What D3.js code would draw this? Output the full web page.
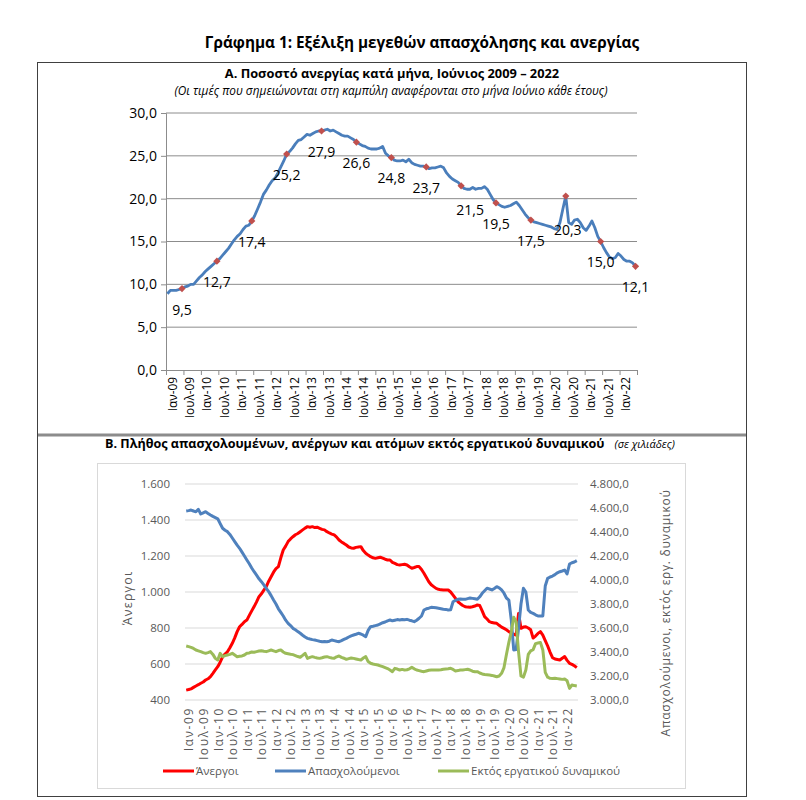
<!DOCTYPE html>
<html>
<head>
<meta charset="utf-8">
<script src="https://cdn.jsdelivr.net/npm/d3@7"></script>
<style>
  body { margin: 0; background: #fff; }
  svg { display: block; }
  text { font-family: "Open Sans", "Noto Sans", sans-serif; }
</style>
</head>
<body>
<svg id="chart" width="806" height="800"></svg>
<script>
// tick labels, every 6 months from Jan 2009
const tickLabels = ["Ιαν-09","Ιουλ-09","Ιαν-10","Ιουλ-10","Ιαν-11","Ιουλ-11","Ιαν-12","Ιουλ-12",
  "Ιαν-13","Ιουλ-13","Ιαν-14","Ιουλ-14","Ιαν-15","Ιουλ-15","Ιαν-16","Ιουλ-16","Ιαν-17","Ιουλ-17",
  "Ιαν-18","Ιουλ-18","Ιαν-19","Ιουλ-19","Ιαν-20","Ιουλ-20","Ιαν-21","Ιουλ-21","Ιαν-22"];

// A. monthly unemployment rate, Jan 2009 - Jun 2022
const rate = [
  8.9, 9.3, 9.3, 9.3, 9.4, 9.5, 9.7, 9.8, 10.0, 10.0, 10.4, 10.8,
  11.1, 11.5, 11.8, 12.1, 12.4, 12.7, 13.0, 13.4, 13.8, 14.2, 14.7, 15.2,
  15.6, 15.9, 16.4, 16.8, 16.9, 17.4, 18.0, 18.8, 19.6, 20.5, 21.0, 21.6,
  22.1, 22.4, 23.0, 23.7, 24.4, 25.2, 25.5, 25.9, 26.4, 26.8, 26.9, 27.2,
  27.5, 27.4, 27.6, 27.8, 27.9, 27.9, 28.0, 28.1, 27.9, 28.0, 27.8, 27.6,
  27.4, 27.3, 27.3, 27.1, 26.9, 26.6, 26.4, 26.2, 26.1, 25.9, 25.8, 25.8,
  25.8, 25.9, 26.1, 25.3, 25.0, 24.8, 24.5, 24.4, 24.4, 24.5, 24.3, 24.6,
  24.2, 24.0, 23.9, 23.8, 23.8, 23.7, 23.5, 23.6, 23.6, 23.7, 23.8, 23.6,
  23.0, 22.6, 22.3, 22.1, 21.9, 21.5, 21.2, 21.1, 21.1, 21.3, 21.1, 21.2,
  21.2, 21.4, 21.1, 20.5, 19.9, 19.5, 19.3, 19.1, 19.0, 19.1, 19.2, 19.4,
  19.6, 19.2, 18.7, 18.2, 17.8, 17.5, 17.3, 17.2, 17.1, 17.0, 16.9, 16.8,
  16.7, 16.5, 16.4, 17.2, 18.8, 20.3, 17.2, 17.0, 17.5, 17.6, 17.2, 16.6,
  16.3, 16.8, 17.4, 16.6, 15.6, 15.0, 14.3, 13.7, 13.2, 13.0, 13.1, 13.6,
  13.3, 12.9, 12.7, 12.7, 12.5, 12.1
];
// June of each year is marked and labelled
const juneIdx = [5, 17, 29, 41, 53, 65, 77, 89, 101, 113, 125, 137, 149, 161];

// B. thousands of people
const unemployed = [
  455, 458, 462, 470, 478, 485, 493, 500, 511, 518, 530, 548,
  567, 585, 610, 640, 655, 668, 690, 715, 745, 780, 807, 820,
  835, 844, 870, 895, 919, 945, 974, 990, 1010, 1030, 1060, 1085,
  1110, 1130, 1141, 1190, 1233, 1255, 1280, 1295, 1307, 1318, 1325, 1335,
  1345, 1355, 1363, 1360, 1363, 1358, 1360, 1354, 1348, 1345, 1335, 1328,
  1322, 1317, 1305, 1289, 1278, 1270, 1261, 1250, 1245, 1243, 1248, 1250,
  1252, 1230, 1215, 1205, 1196, 1190, 1187, 1190, 1193, 1188, 1182, 1178,
  1178, 1165, 1159, 1152, 1150, 1152, 1154, 1150, 1140, 1132, 1136, 1141,
  1141, 1125, 1104, 1080, 1057, 1040, 1030, 1020, 1015, 1012, 1011, 1011,
  1011, 1000, 983, 965, 946, 935, 925, 918, 916, 915, 918, 922,
  928, 925, 895, 863, 850, 835, 830, 828, 826, 815, 805, 798,
  790, 780, 770, 765, 761, 881, 798, 805, 807, 800, 790, 744,
  755, 770, 780, 760, 730, 700, 665, 635, 628, 625, 622, 632,
  641, 620, 604, 598, 590, 580
];
const employed = [
  4575, 4578, 4583, 4575, 4569, 4589, 4550, 4560, 4569, 4555, 4542, 4530,
  4520, 4510, 4470, 4431, 4415, 4403, 4380, 4350, 4320, 4290, 4264, 4232,
  4200, 4167, 4135, 4100, 4069, 4040, 4010, 3986, 3960, 3930, 3903, 3870,
  3833, 3800, 3760, 3730, 3700, 3665, 3639, 3620, 3597, 3585, 3570, 3556,
  3540, 3525, 3514, 3508, 3503, 3500, 3495, 3490, 3486, 3488, 3486, 3490,
  3500, 3495, 3490, 3486, 3495, 3505, 3514, 3525, 3535, 3542, 3548, 3556,
  3550, 3540, 3528, 3580, 3611, 3615, 3620, 3625, 3635, 3644, 3650, 3660,
  3667, 3660, 3665, 3670, 3667, 3670, 3668, 3672, 3665, 3660, 3653, 3665,
  3681, 3700, 3750, 3760, 3765, 3772, 3770, 3768, 3764, 3760, 3756, 3755,
  3750, 3752, 3819, 3830, 3839, 3842, 3840, 3839, 3845, 3850, 3847, 3843,
  3839, 3860, 3889, 3910, 3931, 3925, 3917, 3930, 3944, 3935, 3917, 3890,
  3850, 3833, 3667, 3417, 3420, 3600, 3800, 3931, 3900, 3750, 3730, 3722,
  3710, 3700, 3700, 3700, 3950, 4014, 4025, 4033, 4045, 4060, 4069, 4075,
  4083, 4050, 4133, 4144, 4150, 4161
];
const outsideLF = [
  3450, 3445, 3439, 3430, 3417, 3410, 3403, 3395, 3389, 3395, 3403, 3380,
  3347, 3333, 3389, 3361, 3370, 3375, 3380, 3389, 3375, 3361, 3365, 3367,
  3375, 3389, 3392, 3400, 3398, 3403, 3408, 3411, 3406, 3403, 3410, 3417,
  3410, 3403, 3412, 3417, 3400, 3389, 3385, 3381, 3378, 3370, 3362, 3356,
  3372, 3389, 3347, 3355, 3361, 3355, 3350, 3347, 3352, 3358, 3361, 3355,
  3350, 3347, 3360, 3367, 3355, 3348, 3339, 3345, 3350, 3347, 3342, 3337,
  3333, 3350, 3361, 3320, 3306, 3300, 3295, 3292, 3285, 3278, 3270, 3262,
  3250, 3236, 3264, 3258, 3250, 3255, 3250, 3252, 3260, 3272, 3260, 3250,
  3245, 3240, 3236, 3242, 3248, 3250, 3250, 3250, 3250, 3252, 3256, 3258,
  3260, 3264, 3255, 3242, 3245, 3250, 3250, 3253, 3256, 3250, 3240, 3236,
  3236, 3225, 3217, 3212, 3210, 3208, 3205, 3200, 3194, 3200, 3222, 3270,
  3380, 3480, 3569, 3690, 3650, 3400, 3200, 3190, 3250, 3380, 3410, 3420,
  3470, 3475, 3480, 3417, 3230, 3190, 3181, 3180, 3181, 3178, 3175, 3172,
  3175, 3160, 3097, 3125, 3120, 3117
];

const seriesNames = ["Άνεργοι", "Απασχολούμενοι", "Εκτός εργατικού δυναμικού"];
const seriesColors = ["#ff0000", "#4f81bd", "#9bbb59"];

const gr = d3.formatLocale({decimal: ",", thousands: ".", grouping: [3], currency: ["", "€"]});
const svg = d3.select("#chart");
const n = rate.length;

svg.append("rect").attr("width", 806).attr("height", 800).attr("fill", "#fff");

// outer frame + titles
svg.append("text").attr("x", 422).attr("y", 48).attr("text-anchor", "middle")
  .attr("font-size", 15.3).attr("font-weight", "bold")
  .text("Γράφημα 1: Εξέλιξη μεγεθών απασχόλησης και ανεργίας");
svg.append("rect").attr("x", 37.5).attr("y", 62.5).attr("width", 709).attr("height", 734)
  .attr("fill", "none").attr("stroke", "#404040");
svg.append("line").attr("x1", 38).attr("x2", 746).attr("y1", 435).attr("y2", 435)
  .attr("stroke", "#8c8c8c").attr("stroke-width", 3);

// ---------- panel A ----------
svg.append("text").attr("x", 392).attr("y", 78).attr("text-anchor", "middle")
  .attr("font-size", 12.8).attr("font-weight", "bold")
  .text("Α. Ποσοστό ανεργίας κατά μήνα, Ιούνιος 2009 – 2022");
svg.append("text").attr("x", 391).attr("y", 95).attr("text-anchor", "middle")
  .attr("font-size", 11.8).attr("font-style", "italic")
  .text("(Οι τιμές που σημειώνονται στη καμπύλη αναφέρονται στο μήνα Ιούνιο κάθε έτους)");

const xA = d3.scaleLinear().domain([-0.5, n - 0.5]).range([166, 637]);
const yA = d3.scaleLinear().domain([0, 30]).range([370, 113]);

const gA = svg.append("g");
gA.append("g").selectAll("line").data(yA.ticks(6).filter(d => d > 0)).join("line")
  .attr("x1", 166).attr("x2", 637).attr("y1", d => yA(d)).attr("y2", d => yA(d))
  .attr("stroke", "#8c8c8c");

const axA = gA.append("g").attr("transform", "translate(166,0)")
  .call(d3.axisLeft(yA).ticks(6).tickSize(5).tickFormat(gr.format(",.1f")));
axA.select(".domain").attr("stroke", "#8c8c8c");
axA.selectAll(".tick line").attr("stroke", "#8c8c8c");
axA.selectAll("text").attr("font-size", 14).attr("fill", "#000").attr("font-family", null).attr("x", -9);

const bounds = d3.range(0, n + 1, 6).map(d => d - 0.5);
const axAx = gA.append("g").attr("transform", "translate(0,370)")
  .call(d3.axisBottom(xA).tickValues(bounds).tickSize(5).tickFormat(""));
axAx.select(".domain").attr("stroke", "#8c8c8c");
axAx.selectAll(".tick line").attr("stroke", "#8c8c8c");
gA.append("g").selectAll("text").data(tickLabels).join("text")
  .attr("transform", (d, i) => `translate(${xA(i * 6) + 5},377) rotate(-90)`)
  .attr("text-anchor", "end").attr("dy", "0.35em").attr("font-size", 11.8)
  .text(d => d);

gA.append("path").datum(rate)
  .attr("d", d3.line().x((d, i) => xA(i)).y(d => yA(d)))
  .attr("fill", "none").attr("stroke", "#4a7ebb").attr("stroke-width", 2.8)
  .attr("stroke-linejoin", "round");

gA.append("g").selectAll("path").data(juneIdx).join("path")
  .attr("d", d3.symbol(d3.symbolSquare, 26))
  .attr("transform", i => `translate(${xA(i)},${yA(rate[i])}) rotate(45)`)
  .attr("fill", "#c0504d");

const nudge = {8: [9, 3], 11: [2, 13]};
gA.append("g").selectAll("text").data(juneIdx).join("text")
  .attr("x", (i, k) => xA(i) + (nudge[k] ? nudge[k][0] : 0))
  .attr("y", (i, k) => yA(rate[i]) + 21 + (nudge[k] ? nudge[k][1] : 0))
  .attr("dy", "0.35em").attr("text-anchor", "middle").attr("font-size", 14)
  .text(i => gr.format(",.1f")(rate[i]));

// ---------- panel B ----------
svg.append("text").attr("x", 105).attr("y", 448).attr("font-size", 12.6).attr("font-weight", "bold")
  .text("Β. Πλήθος απασχολουμένων, ανέργων και ατόμων εκτός εργατικού δυναμικού")
  .append("tspan").attr("font-weight", "normal").attr("font-style", "italic").attr("font-size", 11)
  .attr("dx", 10).text("(σε χιλιάδες)");

svg.append("rect").attr("x", 97.5).attr("y", 463.5).attr("width", 588).attr("height", 325)
  .attr("fill", "#fff").attr("stroke", "#d9d9d9");

const xB = d3.scaleLinear().domain([-0.5, n - 0.5]).range([185, 578]);
const yL = d3.scaleLinear().domain([400, 1600]).range([700, 484]);
const yR = d3.scaleLinear().domain([3000, 4800]).range([700, 484]);
const grey = "#595959";

const gB = svg.append("g");
gB.append("g").selectAll("line").data(yL.ticks(6)).join("line")
  .attr("x1", 185).attr("x2", 578).attr("y1", d => yL(d)).attr("y2", d => yL(d))
  .attr("stroke", "#d9d9d9");

gB.append("g").selectAll("text").data(yL.ticks(6)).join("text")
  .attr("x", 170).attr("y", d => yL(d)).attr("dy", "0.35em").attr("text-anchor", "end")
  .attr("font-size", 11.5).attr("fill", grey).text(gr.format(",.0f"));
gB.append("g").selectAll("text").data(d3.range(3000, 4801, 200)).join("text")
  .attr("x", 590).attr("y", d => yR(d)).attr("dy", "0.35em")
  .attr("font-size", 11.5).attr("fill", grey).text(gr.format(",.1f"));

gB.append("g").selectAll("text").data(tickLabels).join("text")
  .attr("transform", (d, i) => `translate(${xB(i * 6) + 3},707) rotate(-90)`)
  .attr("text-anchor", "end").attr("dy", "0.35em").attr("font-size", 12)
  .attr("letter-spacing", 1.6).attr("fill", grey).text(d => d);

gB.append("text").attr("transform", "translate(128,598) rotate(-90)")
  .attr("text-anchor", "middle").attr("dy", "0.35em").attr("font-size", 12.5)
  .attr("letter-spacing", 1.2).attr("fill", grey).text("Άνεργοι");
gB.append("text").attr("transform", "translate(666,613) rotate(-90)")
  .attr("text-anchor", "middle").attr("dy", "0.35em").attr("font-size", 12)
  .attr("letter-spacing", 0.7).attr("fill", grey).text("Απασχολούμενοι, εκτός εργ. δυναμικού");

const lineL = d3.line().x((d, i) => xB(i)).y(d => yL(d));
const lineR = d3.line().x((d, i) => xB(i)).y(d => yR(d));
[[unemployed, lineL], [employed, lineR], [outsideLF, lineR]].forEach(([data, gen], k) => {
  gB.append("path").datum(data).attr("d", gen)
    .attr("fill", "none").attr("stroke", seriesColors[k]).attr("stroke-width", 3)
    .attr("stroke-linejoin", "round");
});

// legend
const legX = [163, 275, 438];
const leg = gB.append("g").selectAll("g").data(seriesNames).join("g")
  .attr("transform", (d, i) => `translate(${legX[i]},771)`);
leg.append("line").attr("x1", 0).attr("x2", 31).attr("stroke", (d, i) => seriesColors[i]).attr("stroke-width", 3);
leg.append("text").attr("x", 33).attr("dy", "0.35em").attr("font-size", 11.5).attr("fill", grey).text(d => d);
</script>
</body>
</html>
